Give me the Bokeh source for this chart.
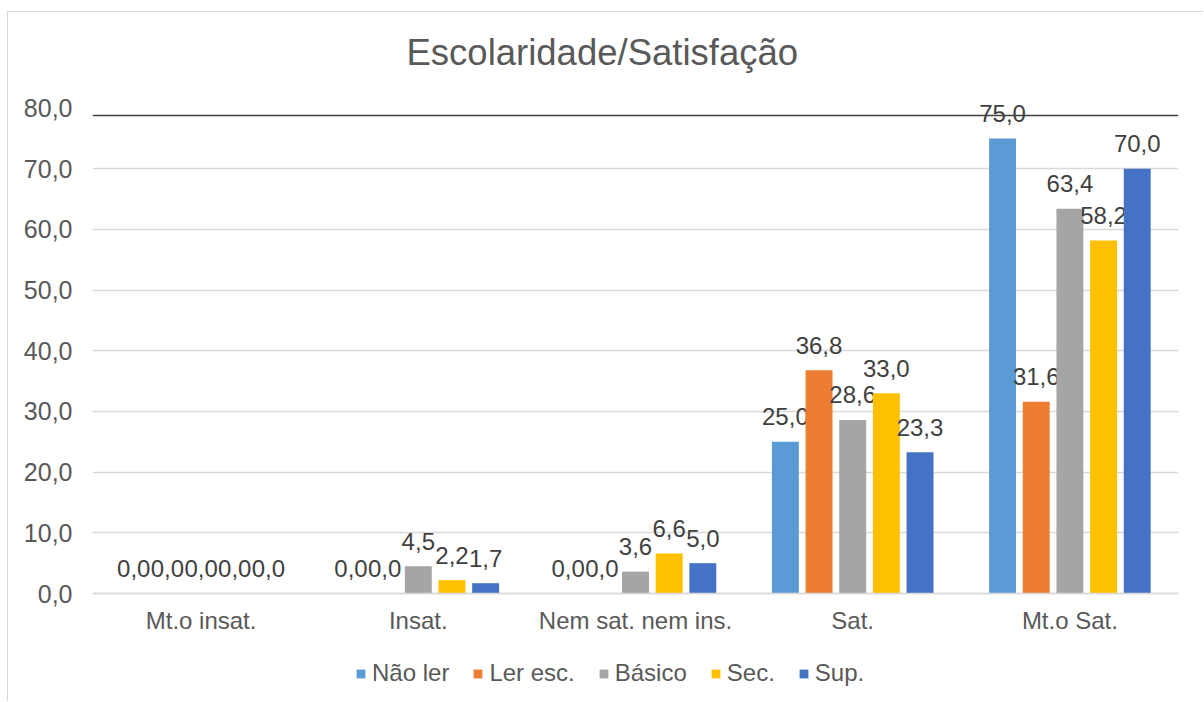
from bokeh.plotting import figure
from bokeh.models import (FactorRange, Range1d, Span, Legend, LegendItem, CustomJSTickFormatter,
                          FixedTicker, ColumnDataSource, Label)
from bokeh.transform import dodge
from bokeh.embed import file_html
from bokeh.resources import INLINE
from bokeh.core.properties import value

categories = ["Mt.o insat.", "Insat.", "Nem sat. nem ins.", "Sat.", "Mt.o Sat."]
series_names = ["Não ler", "Ler esc.", "Básico", "Sec.", "Sup."]
nao_ler = [0.0, 0.0, 0.0, 25.0, 75.0]
ler_esc = [0.0, 0.0, 0.0, 36.8, 31.6]
basico = [0.0, 4.5, 3.6, 28.6, 63.4]
sec = [0.0, 2.2, 6.6, 33.0, 58.2]
sup = [0.0, 1.7, 5.0, 23.3, 70.0]
series_values = [nao_ler, ler_esc, basico, sec, sup]
colors = ["#5B9BD5", "#ED7D31", "#A5A5A5", "#FFC000", "#4472C4"]
y_ticks = [0, 10, 20, 30, 40, 50, 60, 70, 80]
grid_ticks = [0, 10, 20, 30, 40, 50, 60, 70]
top_rule_value = 78.8
title_text = "Escolaridade/Satisfação"

FONT = "Liberation Sans"

# layout (canvas pixels); the frame spans the full canvas height
W, H = 1196, 690
PX_0 = 581                      # canvas y of the 0 line
PX_PER_UNIT = 6.067
y_max = PX_0 / PX_PER_UNIT
y_min = -(H - PX_0) / PX_PER_UNIT

p = figure(x_range=FactorRange(*categories), y_range=Range1d(y_min, y_max),
           width=W, height=H, output_backend="svg", toolbar_location=None,
           min_border_left=84, min_border_right=26, min_border_top=0,
           min_border_bottom=0)
p.styles = {"margin-left": "7px", "margin-top": "11px",
            "border-left": "1px solid #D9D9D9", "border-top": "1px solid #D9D9D9"}
p.x_range.range_padding = 0
p.background_fill_color = "white"
p.border_fill_color = "white"
p.outline_line_color = None
p.title.text = ""

title = Label(x=314, y=H - 40, x_units="screen", y_units="screen",
              text=title_text, text_font=FONT, text_font_size="36.5px",
              text_color="#595959", text_baseline="middle", text_align="left")
p.add_layout(title)

step = 0.155
bar_w = 0.124
renderers = []
for i, (name, vals, col) in enumerate(zip(series_names, series_values, colors)):
    src = ColumnDataSource(dict(cat=categories, val=vals,
                                lab=[f"{v:.1f}".replace(".", ",") for v in vals]))
    off = (i - 2) * step
    r = p.vbar(x=dodge("cat", off, range=p.x_range), top="val", width=bar_w,
               source=src, fill_color=col, line_color=None)
    renderers.append(r)
    p.text(x=dodge("cat", off, range=p.x_range), y="val", text="lab", source=src,
           text_align="center", text_baseline="middle", y_offset=-25,
           text_font=value(FONT), text_font_size="24px", text_color="#404040")

top_line = Span(location=top_rule_value, dimension="width", line_color="#404040",
                line_width=1.5, level="overlay")
p.add_layout(top_line)

p.yaxis.ticker = FixedTicker(ticks=y_ticks)
p.yaxis.formatter = CustomJSTickFormatter(code="return tick.toFixed(1).replace('.', ',');")
p.yaxis.axis_line_color = None
p.yaxis.major_tick_line_color = None
p.yaxis.minor_tick_line_color = None
p.yaxis.major_tick_out = 0
p.yaxis.major_label_standoff = 20
p.yaxis.major_label_text_font = FONT
p.yaxis.major_label_text_font_size = "25px"
p.yaxis.major_label_text_color = "#595959"

p.xaxis.fixed_location = 0
p.xaxis.axis_line_color = "#D9D9D9"
p.xaxis.axis_line_width = 1.3
p.xaxis.major_tick_line_color = None
p.xaxis.minor_tick_line_color = None
p.xaxis.major_tick_out = 0
p.xaxis.major_label_standoff = 13
p.xaxis.major_label_text_font = FONT
p.xaxis.major_label_text_font_size = "24px"
p.xaxis.major_label_text_color = "#595959"

p.xgrid.grid_line_color = None
p.ygrid.ticker = FixedTicker(ticks=grid_ticks)
p.ygrid.grid_line_color = "#D9D9D9"
p.ygrid.grid_line_width = 1.3

legend = Legend(items=[LegendItem(label=n, renderers=[r]) for n, r in zip(series_names, renderers)],
                orientation="horizontal", location=(263, 15),
                glyph_width=11, glyph_height=11, label_standoff=6, spacing=23,
                padding=0, margin=0, border_line_color=None, background_fill_alpha=0,
                label_text_font=FONT, label_text_font_size="24px", label_text_color="#595959")
p.add_layout(legend, "center")

open("out.html", "w").write(file_html(p, INLINE))
